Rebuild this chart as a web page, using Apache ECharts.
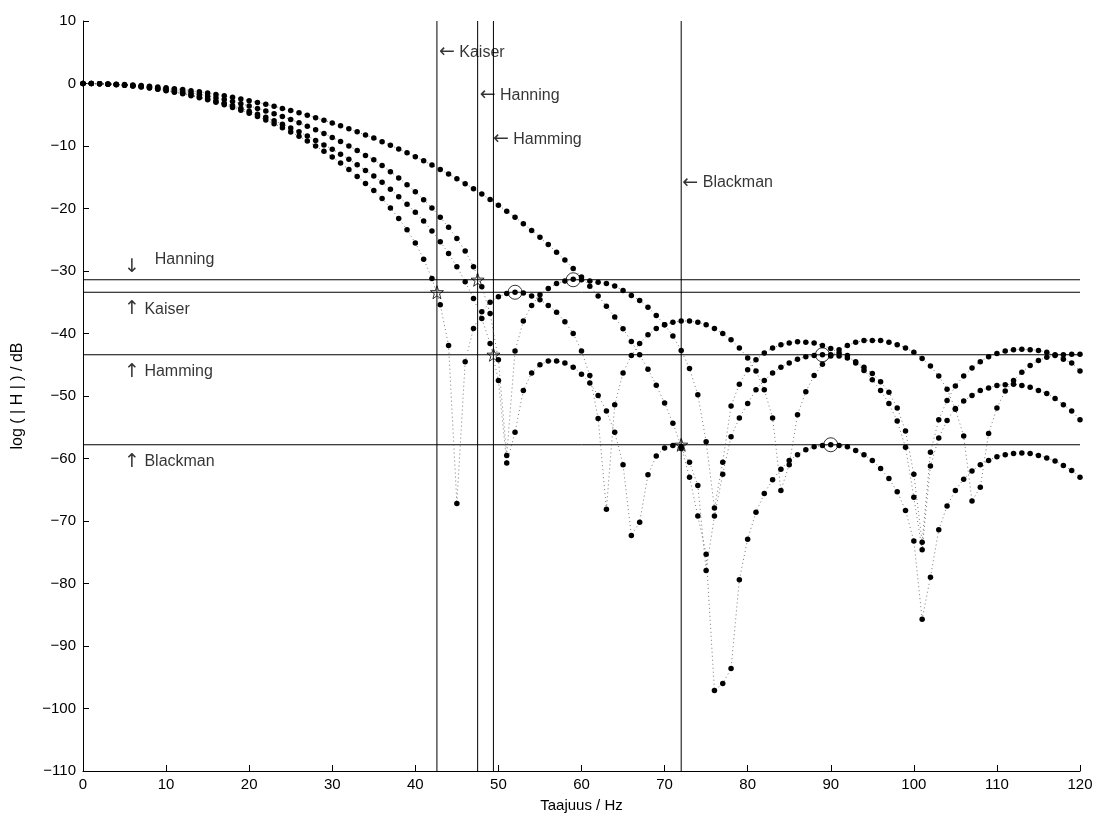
<!DOCTYPE html>
<html><head><meta charset="utf-8">
<script src="https://cdn.jsdelivr.net/npm/echarts/dist/echarts.min.js"></script>
<style>html,body{margin:0;padding:0;background:#fff}#c{width:1099px;height:819px}</style>
</head><body><div id="c"></div>
<script>
const freqHz = [0,1,2,3,4,5,6,7,8,9,10,11,12,13,14,15,16,17,18,19,20,21,22,23,24,25,26,27,28,29,30,31,32,33,34,35,36,37,38,39,40,41,42,43,44,45,46,47,48,49,50,51,52,53,54,55,56,57,58,59,60,61,62,63,64,65,66,67,68,69,70,71,72,73,74,75,76,77,78,79,80,81,82,83,84,85,86,87,88,89,90,91,92,93,94,95,96,97,98,99,100,101,102,103,104,105,106,107,108,109,110,111,112,113,114,115,116,117,118,119,120];

const kaiserDb = [0,-0.01,-0.05,-0.10,-0.18,-0.28,-0.41,-0.56,-0.73,-0.92,
 -1.14,-1.38,-1.65,-1.95,-2.27,-2.61,-2.99,-3.39,-3.82,-4.28,
 -4.77,-5.29,-5.85,-6.44,-7.07,-7.74,-8.45,-9.2,-10.0,-10.85,
 -11.76,-12.73,-13.76,-14.87,-16.0,-17.1,-18.4,-19.9,-21.6,-23.4,
 -25.5,-28.1,-31.2,-35.4,-41.9,-67.2,-44.5,-39.2,-36.5,-35.0,
 -34.1,-33.6,-33.4,-33.5,-34.0,-34.6,-35.5,-36.6,-38.1,-40.0,
 -42.8,-46.7,-53.6,-68.1,-51.4,-46.3,-43.5,-41.6,-40.2,-39.2,
 -38.6,-38.2,-38.0,-38.0,-38.2,-38.6,-39.2,-40.0,-41.0,-42.3,
 -43.9,-46.0,-49.0,-53.5,-65.1,-61.0,-53.0,-49.3,-46.7,-44.9,
 -43.6,-42.6,-41.9,-41.4,-41.1,-41.1,-41.1,-41.4,-41.8,-42.3,
 -43.0,-44.0,-45.2,-46.8,-48.9,-52.1,-56.4,-66.8,-64.6,-56.0,
 -51.9,-49.2,-47.5,-46.2,-45.1,-44.3,-43.8,-43.5,-43.4,-43.3,-43.3];

const hanningDb = [0,-0.01,-0.04,-0.08,-0.14,-0.22,-0.31,-0.42,-0.55,-0.70,
 -0.87,-1.06,-1.26,-1.48,-1.72,-1.98,-2.26,-2.57,-2.89,-3.23,
 -3.59,-3.98,-4.39,-4.83,-5.28,-5.77,-6.28,-6.82,-7.39,-7.99,
 -8.62,-9.28,-9.98,-10.73,-11.5,-12.2,-13.1,-14.1,-15.1,-16.2,
 -17.3,-18.6,-19.9,-21.4,-23.0,-24.8,-26.8,-29.3,-32.5,-36.8,
 -44.2,-59.5,-42.8,-38.0,-35.5,-33.8,-32.8,-32.0,-31.6,-31.3,
 -31.4,-31.6,-31.8,-32.0,-32.4,-33.1,-33.9,-34.7,-35.8,-37.1,
 -38.6,-40.4,-42.7,-45.6,-49.8,-57.3,-67.9,-60.6,-51.6,-48.1,
 -45.8,-44.2,-43.1,-42.3,-41.8,-41.5,-41.3,-41.4,-41.5,-41.9,
 -42.4,-43.1,-43.5,-44.7,-45.9,-47.4,-49.1,-51.2,-54.0,-58.2,
 -66.2,-74.6,-61.2,-56.7,-53.9,-52.0,-50.8,-49.9,-49.1,-48.7,
 -48.3,-48.2,-48.1,-48.3,-48.6,-49.1,-49.6,-50.4,-51.4,-52.4,-53.8];

const hammingDb = [0,-0.01,-0.04,-0.10,-0.17,-0.27,-0.38,-0.52,-0.68,-0.86,
 -1.07,-1.30,-1.55,-1.82,-2.12,-2.44,-2.79,-3.16,-3.56,-3.97,
 -4.42,-4.90,-5.41,-5.94,-6.51,-7.10,-7.73,-8.40,-9.10,-9.83,
 -10.5,-11.3,-12.1,-13.0,-13.9,-14.8,-15.8,-16.9,-18.1,-19.3,
 -20.6,-22.0,-23.6,-25.3,-27.2,-29.3,-31.7,-34.4,-37.6,-41.6,
 -47.5,-60.7,-55.8,-49.1,-46.3,-45.0,-44.4,-44.4,-44.7,-45.4,
 -46.5,-47.9,-49.9,-52.4,-55.8,-61.0,-72.3,-70.2,-62.6,-59.6,
 -58.3,-57.9,-58.4,-60.6,-64.3,-77.9,-69.2,-62.5,-56.5,-53.5,
 -51.2,-49.0,-47.5,-46.3,-45.4,-44.7,-44.1,-43.7,-43.5,-43.4,
 -43.4,-43.6,-43.9,-44.5,-45.4,-46.4,-47.7,-49.4,-51.9,-55.6,
 -62.5,-73.4,-59.0,-53.8,-50.7,-48.4,-46.8,-45.5,-44.5,-43.7,
 -43.2,-42.8,-42.6,-42.5,-42.6,-42.7,-43.0,-43.4,-44.1,-44.7,-46.0];

const blackmanDb = [0,-0.01,-0.03,-0.06,-0.11,-0.17,-0.24,-0.33,-0.43,-0.54,
 -0.67,-0.82,-0.97,-1.14,-1.33,-1.53,-1.74,-1.97,-2.21,-2.46,
 -2.74,-3.02,-3.33,-3.64,-3.98,-4.33,-4.69,-5.07,-5.47,-5.89,
 -6.32,-6.77,-7.24,-7.73,-8.24,-8.7,-9.3,-9.88,-10.47,-11.08,
 -11.71,-12.37,-13.05,-13.75,-14.48,-15.24,-16.03,-16.84,-17.69,-18.57,
 -19.48,-20.42,-21.41,-22.43,-23.5,-24.61,-25.77,-26.98,-28.25,-29.58,
 -30.97,-32.44,-33.99,-35.63,-37.37,-39.23,-41.27,-43.38,-45.72,-48.29,
 -51.13,-54.35,-58.07,-63.0,-69.2,-75.3,-97.1,-96.0,-93.6,-79.4,
 -72.9,-68.6,-65.6,-63.4,-61.7,-60.3,-59.4,-58.6,-58.1,-57.9,
 -57.8,-57.9,-58.1,-58.7,-59.4,-60.3,-61.6,-63.2,-65.3,-68.3,
 -73.2,-85.7,-79.0,-71.4,-67.6,-65.1,-63.3,-62.0,-61.0,-60.3,
 -59.7,-59.4,-59.2,-59.1,-59.2,-59.5,-59.9,-60.4,-61.1,-61.9,-63.0];

// window names, main-lobe crossing frequency, max sidelobe level, sidelobe peak frequency
const windowNames = ['Kaiser','Hanning','Hamming','Blackman'];
const crossFreq = [42.6, 47.5, 49.4, 72.0];
const sidelobeLevel = [-33.4, -31.4, -43.4, -57.8];
const peakFreq = [52, 59, 89, 90];

// text annotations: [x (Hz), y (dB), arrow, text]
const notes = [
  [42.9, 4.9, '←', 'Kaiser'],
  [47.8, -2.0, '←', 'Hanning'],
  [49.4, -9.0, '←', 'Hamming'],
  [72.2, -16.0, '←', 'Blackman'],
  [5.0, -29.4, '↓', ''],
  [8.7, -28.3, '', 'Hanning'],
  [5.0, -36.2, '↑', 'Kaiser'],
  [5.0, -46.2, '↑', 'Hamming'],
  [5.0, -60.6, '↑', 'Blackman']
];

const xRange = [0, 120];
const yRange = [-110, 10];

const FONT = '"Liberation Sans", Arial, Helvetica, sans-serif';
const chart = echarts.init(document.getElementById('c'), null, {renderer: 'canvas'});

function pairs(vals) { return vals.map((v, i) => [freqHz[i], v]); }
const minusFmt = v => String(v).replace('-', '\u2212');

const series = [];
sidelobeLevel.forEach(lv => series.push({
  type: 'line', data: [[xRange[0], lv], [xRange[1], lv]], symbol: 'none', silent: true, z: 1,
  lineStyle: {color: '#000', width: 1}
}));
crossFreq.forEach(fx => series.push({
  type: 'line', data: [[fx, yRange[0]], [fx, yRange[1]]], symbol: 'none', silent: true, z: 1,
  lineStyle: {color: '#000', width: 1}
}));
[kaiserDb, hanningDb, hammingDb, blackmanDb].forEach((vals, i) => series.push({
  type: 'line', name: windowNames[i], data: pairs(vals), symbol: 'circle', symbolSize: 5.5,
  itemStyle: {color: '#000'}, lineStyle: {color: '#555', width: 0.8, type: [1, 3]}, z: 3
}));
series.push({
  type: 'scatter', z: 5, silent: true,
  symbol: 'path://M0,-10 L2.35,-3.24 L9.51,-3.09 L3.8,1.24 L5.88,8.09 L0,4 L-5.88,8.09 L-3.8,1.24 L-9.51,-3.09 L-2.35,-3.24 Z',
  symbolSize: 13, itemStyle: {color: 'rgba(255,255,255,0)', borderColor: '#000', borderWidth: 1},
  data: crossFreq.map((fx, i) => [fx, sidelobeLevel[i]])
});
series.push({
  type: 'scatter', z: 5, silent: true, symbol: 'circle', symbolSize: 14,
  itemStyle: {color: 'rgba(255,255,255,0)', borderColor: '#000', borderWidth: 1},
  data: peakFreq.map((fx, i) => [fx, sidelobeLevel[i]])
});
series.push({
  type: 'scatter', z: 6, silent: true, symbolSize: 1, itemStyle: {color: 'rgba(0,0,0,0)'},
  data: notes,
  label: {show: true, position: [0, 0], align: 'left', verticalAlign: 'middle',
    formatter: p => {
      const a = p.data[2], t = p.data[3];
      let s = '';
      if (a) s += '{a|' + a + '}';
      if (a && t) s += '{s| }';
      if (t) s += '{t|' + t + '}';
      return s;
    },
    rich: {
      a: {fontFamily: '"DejaVu Sans", sans-serif', fontSize: 19, color: '#000'},
      s: {fontFamily: FONT, fontSize: 16, color: '#000'},
      t: {fontFamily: FONT, fontSize: 16, color: '#000'}
    }
  }
});

chart.setOption({
  animation: false,
  backgroundColor: '#fff',
  grid: {left: 83, right: 19, top: 21, bottom: 48, containLabel: false},
  xAxis: {
    type: 'value', min: xRange[0], max: xRange[1], interval: 10,
    name: 'Taajuus / Hz', nameLocation: 'middle', nameGap: 27,
    nameTextStyle: {color: '#000', fontSize: 15, fontFamily: FONT},
    axisLine: {show: true, onZero: false, lineStyle: {color: '#000', width: 1}},
    axisTick: {show: true, inside: true, length: 6, lineStyle: {color: '#000'}},
    axisLabel: {color: '#000', fontSize: 15, fontFamily: FONT, margin: 6},
    splitLine: {show: false}
  },
  yAxis: {
    type: 'value', min: yRange[0], max: yRange[1], interval: 10,
    name: 'log ( | H | ) / dB', nameLocation: 'middle', nameGap: 57, nameRotate: 90,
    nameTextStyle: {color: '#000', fontSize: 16, fontFamily: FONT},
    axisLine: {show: true, onZero: false, lineStyle: {color: '#000', width: 1}},
    axisTick: {show: true, inside: true, length: 6, lineStyle: {color: '#000'}},
    axisLabel: {color: '#000', fontSize: 15, fontFamily: FONT, margin: 7, formatter: minusFmt},
    splitLine: {show: false}
  },
  series: series
});
</script>
</body></html>
